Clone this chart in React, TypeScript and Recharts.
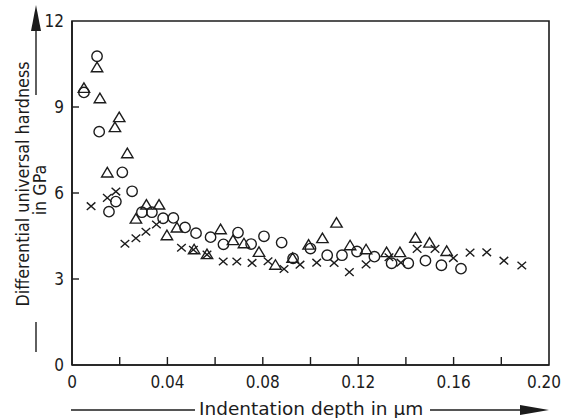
import React from 'react';
import { ScatterChart, Scatter, XAxis, YAxis, ReferenceArea } from 'recharts';

// Indentation depth (µm), differential universal hardness (GPa)
const circleSeries: [number, number][] = [
  [0.005, 9.51], [0.0105, 10.77], [0.0114, 8.14], [0.0155, 5.35], [0.0184, 5.7],
  [0.0211, 6.72], [0.0252, 6.06], [0.0293, 5.33], [0.0335, 5.33], [0.0382, 5.12],
  [0.0425, 5.13], [0.0474, 4.8], [0.052, 4.6], [0.0581, 4.46], [0.0635, 4.21],
  [0.0696, 4.62], [0.0751, 4.22], [0.0805, 4.49], [0.0879, 4.27], [0.0927, 3.72],
  [0.1, 4.06], [0.107, 3.83], [0.1132, 3.83], [0.1195, 3.96], [0.1268, 3.78],
  [0.134, 3.55], [0.141, 3.55], [0.1482, 3.64], [0.1549, 3.48], [0.1631, 3.36],
];

const triangleSeries: [number, number][] = [
  [0.005, 9.65], [0.0105, 10.37], [0.0117, 9.29], [0.0148, 6.7], [0.018, 8.28],
  [0.0198, 8.63], [0.0232, 7.37], [0.0268, 5.09], [0.0312, 5.58], [0.0365, 5.58],
  [0.0398, 4.51], [0.044, 4.78], [0.0512, 4.02], [0.0566, 3.85], [0.0623, 4.72],
  [0.0675, 4.34], [0.0721, 4.23], [0.0784, 3.93], [0.0853, 3.48], [0.0925, 3.72],
  [0.0992, 4.18], [0.105, 4.41], [0.1109, 4.95], [0.1166, 4.16], [0.1233, 4.02],
  [0.1319, 3.92], [0.1375, 3.92], [0.144, 4.42], [0.1499, 4.25], [0.1571, 3.96],
];

const crossSeries: [number, number][] = [
  [0.008, 5.54], [0.0148, 5.83], [0.0184, 6.05], [0.0222, 4.23], [0.0268, 4.42],
  [0.031, 4.65], [0.0354, 4.9], [0.0459, 4.09], [0.0509, 4.02], [0.0566, 3.85],
  [0.0634, 3.61], [0.0691, 3.61], [0.0755, 3.56], [0.0822, 3.62], [0.0889, 3.35],
  [0.0956, 3.5], [0.1026, 3.57], [0.1099, 3.56], [0.1163, 3.24], [0.1233, 3.51],
  [0.1329, 3.76], [0.1379, 3.57], [0.1447, 4.05], [0.1522, 4.05], [0.1599, 3.73],
  [0.1669, 3.92], [0.1739, 3.93], [0.1811, 3.64], [0.1886, 3.47],
];

const xTicks = [0, 0.02, 0.04, 0.06, 0.08, 0.1, 0.12, 0.14, 0.16, 0.18, 0.2];
const xLabelValues = [0, 0.04, 0.08, 0.12, 0.16, 0.2];
const xLabels = ['0', '0.04', '0.08', '0.12', '0.16', '0.20'];
const yTicks = [0, 3, 6, 9, 12];
const yLabels = ['0', '3', '6', '9', '12'];

const xTitle = 'Indentation depth in µm';
const yTitle = 'Differential universal hardness';
const yUnit = 'in GPa';

const INK = '#1c1c1c';
const FONT_C = "'DejaVu Sans Condensed', 'DejaVu Sans', sans-serif";
const FONT = "'DejaVu Sans', sans-serif";

const toPts = (s: [number, number][]) => s.map(([x, y]) => ({ x, y }));

const CircleMark = (p: any) => (
  <circle cx={p.cx} cy={p.cy} r={5.2} fill="none" stroke={INK} strokeWidth={1.4} />
);
const TriMark = (p: any) => {
  const { cx, cy } = p;
  return (
    <path
      d={`M${cx},${cy - 5.5} L${cx + 5.7},${cy + 4} L${cx - 5.7},${cy + 4} Z`}
      fill="none"
      stroke={INK}
      strokeWidth={1.4}
    />
  );
};
const CrossMark = (p: any) => {
  const { cx, cy } = p;
  const a = 4.3;
  const b = 3.8;
  return (
    <path
      d={`M${cx - a},${cy - b} L${cx + a},${cy + b} M${cx + a},${cy - b} L${cx - a},${cy + b}`}
      stroke={INK}
      strokeWidth={1.4}
      fill="none"
    />
  );
};

const XTick = (props: any) => {
  const { x, y, payload } = props;
  const v = payload.value;
  const idx = xLabelValues.findIndex((t) => Math.abs(t - v) < 1e-9);
  const isLast = idx === xLabelValues.length - 1;
  return (
    <g>
      {v > 0.001 && v < 0.199 && (
        <line x1={x} x2={x} y1={y} y2={y - 8} stroke={INK} strokeWidth={1.4} />
      )}
      {idx >= 0 && (
        <text
          x={isLast ? x + 12 : x}
          y={y + 23}
          textAnchor={isLast ? 'end' : 'middle'}
          fill={INK}
          fontFamily={FONT_C}
          fontSize={17}
        >
          {xLabels[idx]}
        </text>
      )}
    </g>
  );
};

const YTick = (props: any) => {
  const { x, y, payload } = props;
  const v = payload.value;
  const idx = yTicks.indexOf(v);
  return (
    <g>
      {v > 0 && v < 12 && (
        <line x1={x} x2={x + 7} y1={y} y2={y} stroke={INK} strokeWidth={1.4} />
      )}
      <text x={x - 8} y={y + 6} textAnchor="end" fill={INK} fontFamily={FONT_C} fontSize={17}>
        {idx >= 0 ? yLabels[idx] : ''}
      </text>
    </g>
  );
};

export default function App() {
  return (
    <div style={{ position: 'absolute', left: 0, top: 0, width: 563, height: 418, background: '#fff' }}>
      <ScatterChart
        width={563}
        height={418}
        margin={{ top: 21, right: 14, bottom: 13, left: 12 }}
      >
        <XAxis
          type="number"
          dataKey="x"
          domain={[0, 0.2]}
          ticks={xTicks}
          interval={0}
          height={40}
          tickSize={0}
          tickMargin={0}
          tickLine={false}
          axisLine={{ stroke: INK, strokeWidth: 1.6 }}
          tick={(p: any) => <XTick {...p} />}
          allowDataOverflow
        />
        <YAxis
          type="number"
          dataKey="y"
          domain={[0, 12]}
          ticks={yTicks}
          interval={0}
          width={60}
          tickSize={0}
          tickMargin={0}
          tickLine={false}
          axisLine={{ stroke: INK, strokeWidth: 1.6 }}
          tick={(p: any) => <YTick {...p} />}
          allowDataOverflow
        />
        <ReferenceArea x1={0} x2={0.2} y1={0} y2={12} fill="none" fillOpacity={0} stroke={INK} strokeWidth={1.6} />
        <Scatter data={toPts(circleSeries)} shape={CircleMark} isAnimationActive={false} />
        <Scatter data={toPts(triangleSeries)} shape={TriMark} isAnimationActive={false} />
        <Scatter data={toPts(crossSeries)} shape={CrossMark} isAnimationActive={false} />
      </ScatterChart>
      <svg
        width={563}
        height={418}
        style={{ position: 'absolute', left: 0, top: 0, pointerEvents: 'none' }}
      >
        {/* x-axis title with arrow */}
        <line x1={71} x2={195} y1={410} y2={410} stroke={INK} strokeWidth={1.4} />
        <text x={199} y={415} fill={INK} fontFamily={FONT} fontSize={18.5}>
          {xTitle}
        </text>
        <line x1={430} x2={522} y1={410} y2={410} stroke={INK} strokeWidth={1.4} />
        <path d="M520,405 L549,410 L520,415 Z" fill={INK} />
        {/* y-axis title with arrow */}
        <text
          transform="rotate(-90)"
          x={-184}
          y={29}
          textAnchor="middle"
          fill={INK}
          fontFamily={FONT_C}
          fontSize={17.8}
        >
          {yTitle}
        </text>
        <text
          transform="rotate(-90)"
          x={-190}
          y={46}
          textAnchor="middle"
          fill={INK}
          fontFamily={FONT_C}
          fontSize={17.8}
        >
          {yUnit}
        </text>
        <line x1={36} x2={36} y1={95} y2={28} stroke={INK} strokeWidth={1.4} />
        <path d="M31,31 L36,5 L41,31 Z" fill={INK} />
        <line x1={36} x2={36} y1={322} y2={352} stroke={INK} strokeWidth={1.4} />
      </svg>
    </div>
  );
}
